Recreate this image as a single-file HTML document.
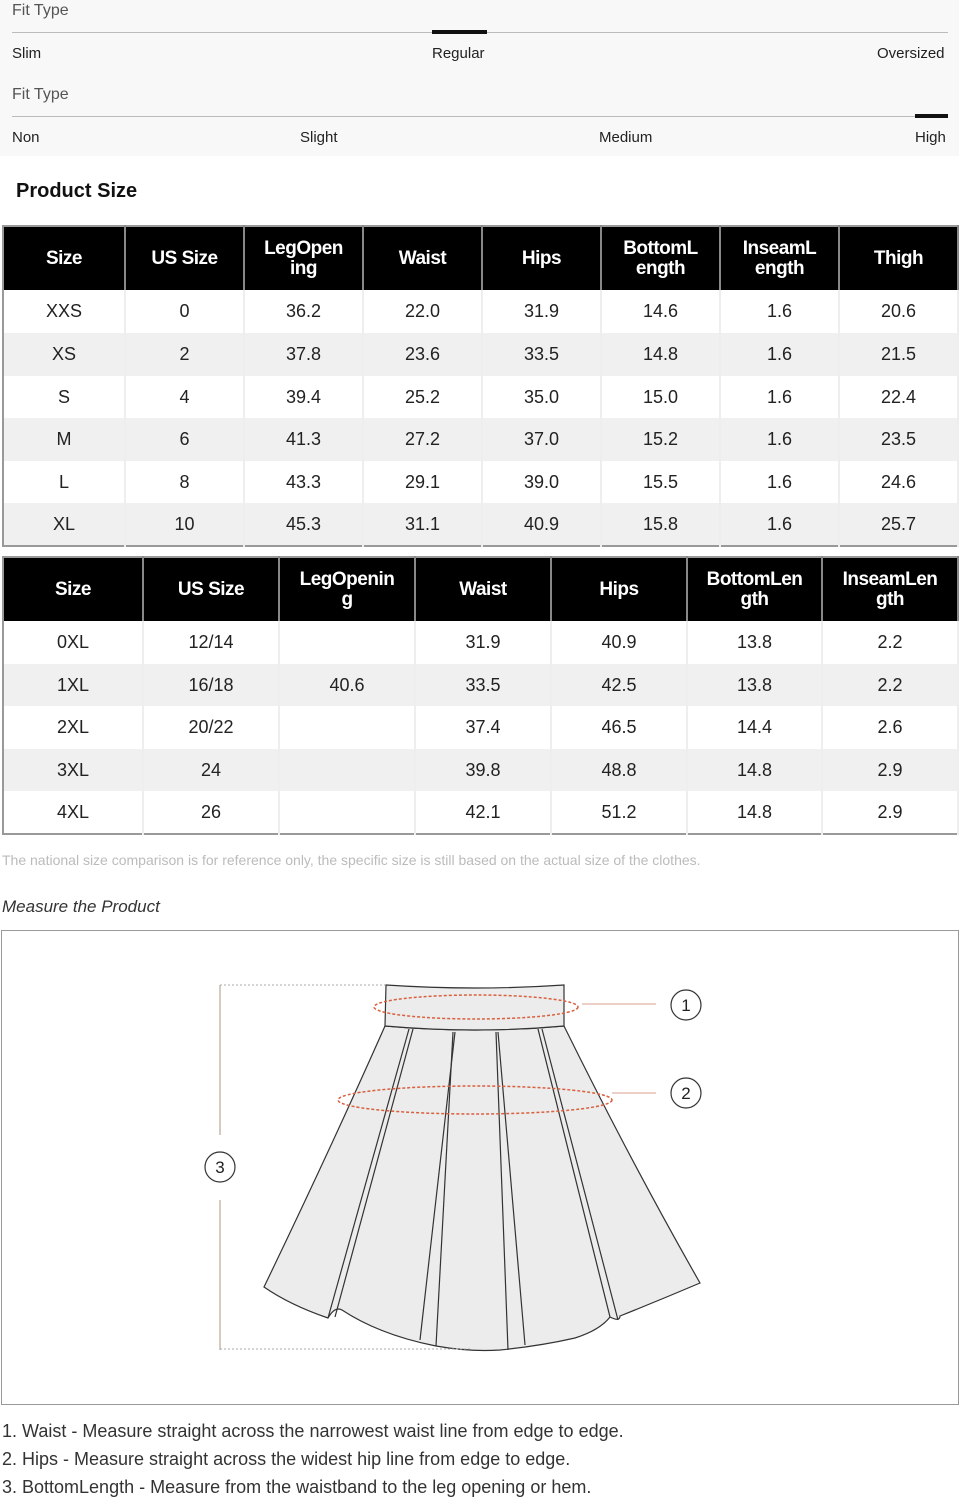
<!DOCTYPE html><html><head><meta charset="utf-8"><style>
*{margin:0;padding:0;box-sizing:border-box}
body{width:961px;height:1500px;background:#fff;font-family:"Liberation Sans",sans-serif;position:relative;overflow:hidden;color:#111}
.a{position:absolute;white-space:nowrap}
.fit{position:absolute;left:0;top:0;width:959px;height:156px;background:#f8f8f8}
.t{position:absolute;font-size:15px;color:#222}
table{position:absolute;border-collapse:collapse;border:2px solid #999;table-layout:fixed}
td,th{text-align:center;font-size:18px;color:#222;border-right:2px solid #eee}
th{background:#000;color:#fff;font-weight:bold;font-size:19px;line-height:20px;border-right:2px solid #888;letter-spacing:-0.5px}
tr.g td{background:#f0f0f0}
</style></head><body>
<div class="fit"></div>
<div class="t" style="left:12px;top:2px;font-size:16px;color:#555">Fit Type</div>
<div class="a" style="left:12px;top:32px;width:936px;height:1px;background:#bbb"></div>
<div class="a" style="left:432px;top:30px;width:55px;height:4px;background:#111"></div>
<div class="t" style="left:12px;top:45px">Slim</div>
<div class="t" style="left:432px;top:45px">Regular</div>
<div class="t" style="left:877px;top:45px">Oversized</div>
<div class="t" style="left:12px;top:86px;font-size:16px;color:#555">Fit Type</div>
<div class="a" style="left:12px;top:116px;width:936px;height:1px;background:#bbb"></div>
<div class="a" style="left:915px;top:114px;width:33px;height:4px;background:#111"></div>
<div class="t" style="left:12px;top:129px">Non</div>
<div class="t" style="left:300px;top:129px">Slight</div>
<div class="t" style="left:599px;top:129px">Medium</div>
<div class="t" style="left:915px;top:129px">High</div>
<div class="a" style="left:16px;top:180px;font-size:20px;font-weight:bold">Product Size</div>

<table style="left:2px;top:225px;width:957px">
<colgroup><col style="width:122px"><col style="width:119px"><col style="width:119px"><col style="width:119px"><col style="width:119px"><col style="width:119px"><col style="width:119px"><col></colgroup>
<tr style="height:64px"><th>Size</th><th>US Size</th><th>LegOpen<br>ing</th><th>Waist</th><th>Hips</th><th>BottomL<br>ength</th><th>InseamL<br>ength</th><th>Thigh</th></tr>
<tr style="height:43px"><td>XXS</td><td>0</td><td>36.2</td><td>22.0</td><td>31.9</td><td>14.6</td><td>1.6</td><td>20.6</td></tr>
<tr class="g" style="height:43px"><td>XS</td><td>2</td><td>37.8</td><td>23.6</td><td>33.5</td><td>14.8</td><td>1.6</td><td>21.5</td></tr>
<tr style="height:42px"><td>S</td><td>4</td><td>39.4</td><td>25.2</td><td>35.0</td><td>15.0</td><td>1.6</td><td>22.4</td></tr>
<tr class="g" style="height:43px"><td>M</td><td>6</td><td>41.3</td><td>27.2</td><td>37.0</td><td>15.2</td><td>1.6</td><td>23.5</td></tr>
<tr style="height:42px"><td>L</td><td>8</td><td>43.3</td><td>29.1</td><td>39.0</td><td>15.5</td><td>1.6</td><td>24.6</td></tr>
<tr class="g" style="height:43px"><td>XL</td><td>10</td><td>45.3</td><td>31.1</td><td>40.9</td><td>15.8</td><td>1.6</td><td>25.7</td></tr>
</table>

<table style="left:2px;top:556px;width:957px">
<colgroup><col style="width:140px"><col style="width:136px"><col style="width:136px"><col style="width:136px"><col style="width:136px"><col style="width:135px"><col></colgroup>
<tr style="height:64px"><th>Size</th><th>US Size</th><th>LegOpenin<br>g</th><th>Waist</th><th>Hips</th><th>BottomLen<br>gth</th><th>InseamLen<br>gth</th></tr>
<tr style="height:43px"><td>0XL</td><td>12/14</td><td></td><td>31.9</td><td>40.9</td><td>13.8</td><td>2.2</td></tr>
<tr class="g" style="height:42px"><td>1XL</td><td>16/18</td><td>40.6</td><td>33.5</td><td>42.5</td><td>13.8</td><td>2.2</td></tr>
<tr style="height:43px"><td>2XL</td><td>20/22</td><td></td><td>37.4</td><td>46.5</td><td>14.4</td><td>2.6</td></tr>
<tr class="g" style="height:42px"><td>3XL</td><td>24</td><td></td><td>39.8</td><td>48.8</td><td>14.8</td><td>2.9</td></tr>
<tr style="height:43px"><td>4XL</td><td>26</td><td></td><td>42.1</td><td>51.2</td><td>14.8</td><td>2.9</td></tr>
</table>

<div class="a" style="left:2px;top:852px;font-size:14px;color:#bbb">The national size comparison is for reference only, the specific size is still based on the actual size of the clothes.</div>
<div class="a" style="left:2px;top:897px;font-size:17px;font-style:italic;color:#333">Measure the Product</div>
<div class="a" style="left:1px;top:930px;width:958px;height:475px;border:1px solid #999"></div>

<svg class="a" style="left:0;top:0" width="961" height="1500">
<g fill="#ececec" stroke="#333" stroke-width="1.2">
<path d="M385 1026 Q330 1150 264 1287 Q290 1305 328 1318 Q335 1306 342 1310 Q380 1335 436 1346 Q470 1352 500 1350 Q540 1346 575 1338 Q600 1330 610 1317 Q620 1322 620 1316 Q660 1300 700 1283 Q630 1160 564 1026 Q476 1034 385 1026Z"/>
<path d="M386 985 Q476 991 564 985 L564 1026 Q476 1034 385 1026 Z"/>
</g>
<g fill="none" stroke="#333" stroke-width="1.2">
<path d="M413 1029 L335 1317"/><path d="M409 1029 L328 1318"/>
<path d="M453 1032 L436 1346"/><path d="M455 1032 L420 1340"/>
<path d="M498 1032 L525 1345"/><path d="M496 1032 L508 1350"/>
<path d="M538 1029 L610 1317"/><path d="M542 1029 L618 1320"/>
</g>
<g fill="none" stroke="#d9603f" stroke-width="1.5" stroke-dasharray="3 2">
<ellipse cx="476" cy="1007" rx="102" ry="12"/>
<ellipse cx="475" cy="1100" rx="137" ry="14"/>
</g>
<g stroke="#d9a090" stroke-width="1"><line x1="582" y1="1004" x2="656" y2="1004"/><line x1="612" y1="1093" x2="656" y2="1093"/></g>
<g stroke="#c8b8a8" stroke-width="1.5"><line x1="220" y1="985" x2="220" y2="1135"/><line x1="220" y1="1200" x2="220" y2="1350"/></g>
<g stroke="#aaa" stroke-width="1" stroke-dasharray="2 2"><line x1="220" y1="985" x2="385" y2="985"/><line x1="220" y1="1349" x2="470" y2="1349"/></g>
<g fill="#fff" stroke="#333" stroke-width="1.2"><circle cx="686" cy="1005" r="15"/><circle cx="686" cy="1093" r="15"/><circle cx="220" cy="1167" r="15"/></g>
<g font-family="Liberation Sans" font-size="17" fill="#222" text-anchor="middle"><text x="686" y="1011">1</text><text x="686" y="1099">2</text><text x="220" y="1173">3</text></g>
</svg>
<div class="a" style="left:2px;top:1421px;font-size:18px;color:#333">1. Waist - Measure straight across the narrowest waist line from edge to edge.</div>
<div class="a" style="left:2px;top:1449px;font-size:18px;color:#333">2. Hips - Measure straight across the widest hip line from edge to edge.</div>
<div class="a" style="left:2px;top:1477px;font-size:18px;color:#333">3. BottomLength - Measure from the waistband to the leg opening or hem.</div>
</body></html>
